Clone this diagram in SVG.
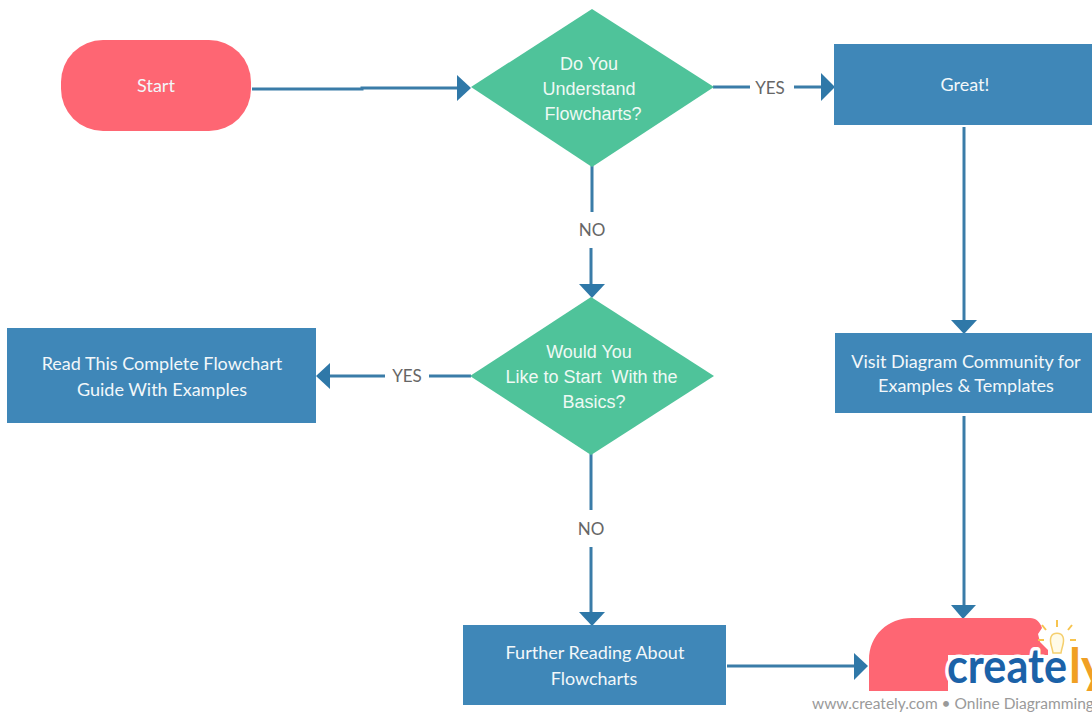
<svg xmlns="http://www.w3.org/2000/svg" width="1092" height="713" viewBox="0 0 1092 713">
<style>
.box{fill:#3f87b8}
.dia{fill:#4fc39a}
.pill{fill:#fe6673}
.t{font-family:"Lato","Liberation Sans",sans-serif;font-size:18px;fill:#f2f7fa;text-anchor:middle}
.d{font-family:"Liberation Sans",Arial,sans-serif;font-size:18px;fill:#eef9f4;text-anchor:middle;white-space:pre}
.l{font-family:"Lato","Liberation Sans",sans-serif;font-size:17px;fill:#666;text-anchor:middle}
.c{fill:none;stroke:#3a7ca8;stroke-width:3}
.a{fill:#2f78a8}
</style>
<rect width="1092" height="713" fill="#fff"/>
<g id="connectors">
<path class="c" d="M252 89H362V88H458"/>
<path class="a" d="M457 75L471 88L457 101Z"/>
<path class="c" d="M713 87H750M794 87H822"/>
<path class="a" d="M821 73L835 87L821 101Z"/>
<path class="c" d="M592 166V212M591 248V285"/>
<path class="a" d="M579 284L592 298L605 284Z"/>
<path class="c" d="M964 127V322"/>
<path class="a" d="M951 320L964 334L977 320Z"/>
<path class="c" d="M471 376H429M385 376H330"/>
<path class="a" d="M330 363L316 376L330 389Z"/>
<path class="c" d="M591 454V510M591 547V614"/>
<path class="a" d="M579 612L592 626L605 612Z"/>
<path class="c" d="M964 416V606"/>
<path class="a" d="M951 605L963 619L976 605Z"/>
<path class="c" d="M727 666H856"/>
<path class="a" d="M854 653L868 666L854 680Z"/>
</g>
<g id="start"><rect class="pill" x="61" y="40" width="190" height="91" rx="42" ry="42"/><text class="t" x="156" y="92">Start</text></g>
<g id="q1"><polygon class="dia" points="592,9 714,87 592,167 471,87"/>
<text class="d" x="589" y="70">Do You</text><text class="d" x="589" y="95">Understand</text><text class="d" x="593" y="120">Flowcharts?</text></g>
<g id="great"><rect class="box" x="834" y="44" width="258" height="81"/><text class="t" x="965" y="91">Great!</text></g>
<g id="q2"><polygon class="dia" points="591,297 714,376 591,455 470,376"/>
<text class="d" x="589" y="358">Would You</text><text class="d" x="591.500" y="383">Like to Start  With the</text><text class="d" x="594" y="408">Basics?</text></g>
<g id="read"><rect class="box" x="7" y="328" width="309" height="95"/><text class="t" x="162" y="370">Read This Complete Flowchart</text><text class="t" x="162" y="396">Guide With Examples</text></g>
<g id="visit"><rect class="box" x="835" y="333" width="257" height="80"/><text class="t" x="966" y="368">Visit Diagram Community for</text><text class="t" x="966" y="392">Examples &amp; Templates</text></g>
<g id="further"><rect class="box" x="463" y="625" width="263" height="80"/><text class="t" x="595" y="659">Further Reading About</text><text class="t" x="594" y="685">Flowcharts</text></g>
<g id="end"><path class="pill" d="M869 691V660C869 635 888 618 912 618H1030C1036 618 1040 622 1042 628L1038 634L1040 642L1048 650V655H948V691Z"/></g>
<g id="watermark">
<rect x="780" y="691" width="312" height="22" fill="#fff"/>
<path d="M1051 637C1053 632 1061 632 1063 637C1065 642 1062 646 1061 653H1053C1052 646 1049 642 1051 637Z" fill="#fffbe8" stroke="#f5cf6e" stroke-width="1.500"/>
<path d="M1057 620V627M1042 625L1046 630M1072 625L1068 630M1038 640H1044M1076 640H1070" stroke="#f7c44e" stroke-width="2" fill="none"/>
<text x="947" y="683" font-family="Lato,'Liberation Sans',sans-serif" font-size="48" font-weight="700" fill="#1b62a8" stroke="#fff" stroke-width="7" paint-order="stroke" stroke-linejoin="round" textLength="120" lengthAdjust="spacingAndGlyphs">create</text>
<text x="1069" y="683" font-family="Lato,'Liberation Sans',sans-serif" font-size="48" font-weight="700" fill="#f0a024">ly</text>
<text x="812" y="709" font-family="Lato,'Liberation Sans',sans-serif" font-size="15.500" fill="#9a9a9a">www.creately.com • Online Diagramming</text>
</g>
<g id="labels">
<text class="l" x="770" y="94">YES</text>
<text class="l" x="592" y="236">NO</text>
<text class="l" x="407" y="382">YES</text>
<text class="l" x="591" y="535">NO</text>
</g>
</svg>
